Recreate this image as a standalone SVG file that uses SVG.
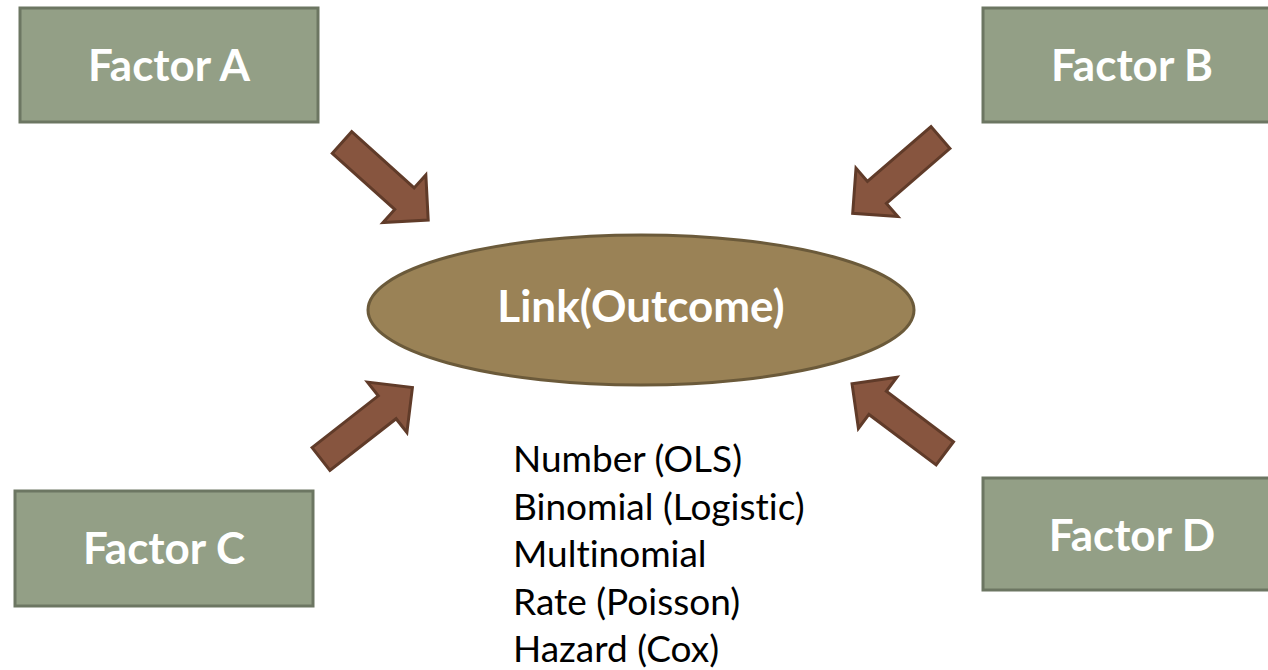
<svg xmlns="http://www.w3.org/2000/svg" width="1268" height="670" viewBox="0 0 1268 670">
<defs>
<style>
text{font-variant-ligatures:none;font-feature-settings:"liga" 0,"clig" 0}
.box{fill:#939f86;stroke:#6c7662;stroke-width:3}
.lbl{font-family:Lato,"Liberation Sans",sans-serif;font-weight:bold;font-size:44px;fill:#ffffff;text-anchor:middle}
.arr{fill:#87553f;stroke:#603b29;stroke-width:3;stroke-linejoin:miter}
.list{font-family:Lato,"Liberation Sans",sans-serif;font-size:37px;fill:#000000}
</style>
<polygon id="blk" points="0,-14.5 84,-14.5 84,-32 116,0 84,32 84,14.5 0,14.5"/>
</defs>
<rect width="1268" height="670" fill="#ffffff"/>
<g id="connectors">
<use href="#blk" class="arr" transform="translate(342,142.5) rotate(42)"/>
<use href="#blk" class="arr" transform="translate(940.5,137.5) rotate(139.2)"/>
<use href="#blk" class="arr" transform="translate(321,459) rotate(-38)"/>
<use href="#blk" class="arr" transform="translate(944.8,453.3) rotate(-143.1)"/>
</g>
<g id="factorA">
<rect class="box" x="20" y="8" width="298" height="114"/>
<text class="lbl" x="169" y="81">Factor A</text>
</g>
<g id="factorB">
<rect class="box" x="983" y="8" width="298" height="114"/>
<text class="lbl" x="1132" y="81">Factor B</text>
</g>
<g id="factorC">
<rect class="box" x="15" y="491" width="298" height="115"/>
<text class="lbl" x="164" y="564">Factor C</text>
</g>
<g id="factorD">
<rect class="box" x="983" y="478" width="298" height="112"/>
<text class="lbl" x="1132" y="551">Factor D</text>
</g>
<g id="outcome">
<ellipse cx="641" cy="310" rx="273" ry="75" fill="#9a8256" stroke="#6b5a3a" stroke-width="3"/>
<text class="lbl" x="641" y="322">Link(Outcome)</text>
</g>
<g id="types">
<text class="list" x="513" y="472">Number (OLS)</text>
<text class="list" x="513" y="519.5">Binomial (Logistic)</text>
<text class="list" x="513" y="567">Multinomial</text>
<text class="list" x="513" y="614.5">Rate (Poisson)</text>
<text class="list" x="513" y="662">Hazard (Cox)</text>
</g>
</svg>
